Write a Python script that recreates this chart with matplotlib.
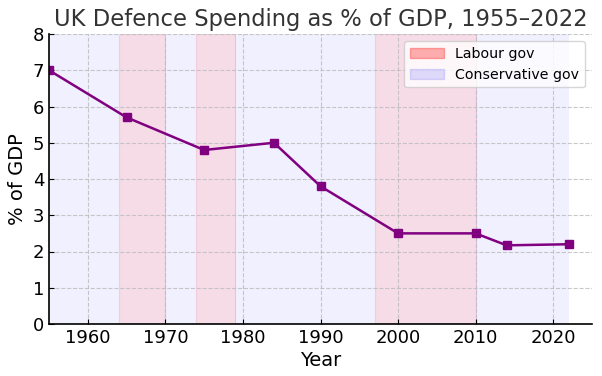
import matplotlib.pyplot as plt
from matplotlib.patches import Patch

years = [1955, 1965, 1975, 1984, 1990, 2000, 2010, 2014, 2022]
pct_gdp = [7.0, 5.7, 4.8, 5.0, 3.8, 2.5, 2.5, 2.17, 2.2]

labour = [(1964, 1970), (1974, 1979), (1997, 2010)]
conservative = [(1955, 1964), (1970, 1974), (1979, 1997), (2010, 2022)]

fig, ax = plt.subplots(figsize=(6.02, 3.76), dpi=100)
fig.subplots_adjust(left=49/602, right=592/602, top=1-34/376, bottom=1-324/376)

for start, end in conservative:
    ax.axvspan(start, end, color='blue', alpha=0.06, lw=0)
for start, end in labour:
    ax.axvspan(start, end, color='#d86090', alpha=0.22, lw=0.8)

ax.plot(years, pct_gdp, color='purple', marker='s', markersize=6, lw=1.8)

ax.set_xlim(1955, 2025)
ax.set_ylim(0, 8)
ax.set_title("UK Defence Spending as % of GDP, 1955\u20132022", fontsize=16.3, color='#333333', pad=6)
ax.set_xlabel("Year", fontsize=14, labelpad=3)
ax.set_ylabel("% of GDP", fontsize=14)
ax.tick_params(direction='in', labelsize=13)
ax.grid(True, linestyle='--', color='#bbbbbb', lw=0.8, alpha=0.8)
ax.spines['top'].set_visible(False)
ax.spines['right'].set_visible(False)
ax.spines['left'].set_linewidth(1.2)
ax.spines['bottom'].set_linewidth(1.2)

handles = [Patch(facecolor='red', alpha=0.3, edgecolor='red', label='Labour gov'),
           Patch(facecolor='blue', alpha=0.12, edgecolor='blue', label='Conservative gov')]
ax.legend(handles=handles, loc='upper right', fontsize=10.2, handlelength=2.4)

plt.savefig('out.png')
